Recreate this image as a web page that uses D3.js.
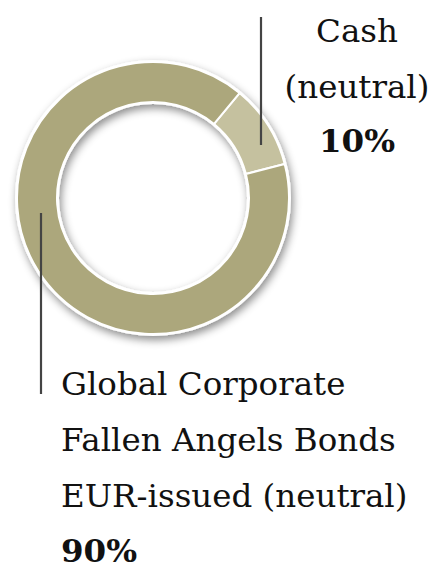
<!DOCTYPE html>
<html>
<head>
<meta charset="utf-8">
<script src="https://cdn.jsdelivr.net/npm/d3@7"></script>
<style>
  body { margin: 0; background: #fff; }
  text { font-family: "DejaVu Serif", Georgia, serif; fill: #111; }
</style>
</head>
<body>
<script>
var width = 436,
  height = 570;

// data
var categories = ["Cash (neutral)", "Global Corporate Fallen Angels Bonds EUR-issued (neutral)"];
var values = [10, 90];
var colors = ["#c5c19f", "#aca77c"];
var cashLines = ["Cash", "(neutral)"];
var bondLines = ["Global Corporate", "Fallen Angels Bonds", "EUR-issued (neutral)"];

var svg = d3.select("body").append("svg")
  .attr("width", width)
  .attr("height", height);

// soft shadow under the ring
var defs = svg.append("defs");
var filter = defs.append("filter").attr("id", "shadow")
  .attr("x", "-20%").attr("y", "-20%").attr("width", "140%").attr("height", "140%");
filter.append("feDropShadow")
  .attr("dx", 2).attr("dy", 4).attr("stdDeviation", 4)
  .attr("flood-color", "#000").attr("flood-opacity", 0.45);

var cx = 153, cy = 198,
  outerR = 136, innerR = 96;

var pie = d3.pie()
  .sort(null)
  .startAngle(39.5 * Math.PI / 180)
  .endAngle(39.5 * Math.PI / 180 + 2 * Math.PI)
  .value(function (d) { return d; });

var arc = d3.arc().innerRadius(innerR).outerRadius(outerR);

var g = svg.append("g").attr("transform", "translate(" + cx + "," + cy + ")");

// white ring behind slices, carries the shadow
g.append("path")
  .attr("d", d3.arc().innerRadius(innerR - 2).outerRadius(outerR + 2)({ startAngle: 0, endAngle: 2 * Math.PI }))
  .attr("fill", "#fff")
  .attr("filter", "url(#shadow)");

g.selectAll("path.slice")
  .data(pie(values))
  .enter()
  .append("path")
  .attr("class", "slice")
  .attr("d", arc)
  .attr("fill", function (d, i) { return colors[i]; })
  .attr("stroke", "#fff")
  .attr("stroke-width", 2);

// leader lines
svg.append("line")
  .attr("x1", 261).attr("y1", 17).attr("x2", 261).attr("y2", 145)
  .attr("stroke", "#444").attr("stroke-width", 2.2);

svg.append("line")
  .attr("x1", 41).attr("y1", 213).attr("x2", 41).attr("y2", 394)
  .attr("stroke", "#444").attr("stroke-width", 2.2);

// cash label
var cash = svg.append("text")
  .attr("text-anchor", "middle")
  .attr("font-size", 32.5);
cashLines.forEach(function (t, i) {
  cash.append("tspan").attr("x", 357).attr("y", 42 + i * 56).text(t);
});
cash.append("tspan").attr("x", 357).attr("y", 152)
  .attr("font-weight", "bold").text(values[0] + "%");

// bond label
var bond = svg.append("text")
  .attr("font-size", 32.5);
bondLines.forEach(function (t, i) {
  bond.append("tspan").attr("x", 61).attr("y", 395 + i * 56).text(t);
});
bond.append("tspan").attr("x", 61).attr("y", 562)
  .attr("font-weight", "bold").text(values[1] + "%");
</script>
</body>
</html>
